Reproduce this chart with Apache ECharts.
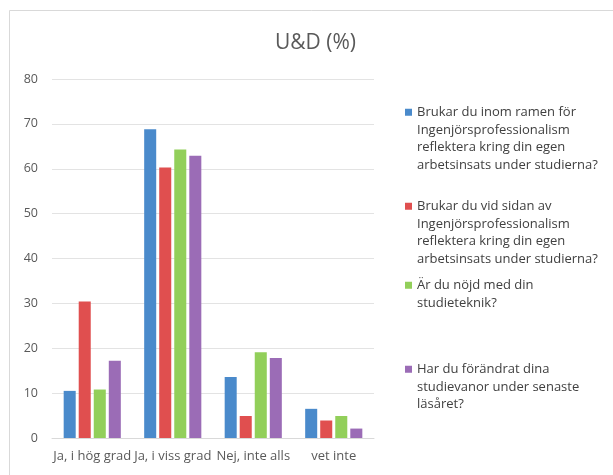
<!DOCTYPE html>
<html>
<head>
<meta charset="utf-8">
<script src="https://cdn.jsdelivr.net/npm/echarts@6/dist/echarts.min.js"></script>
<style>
html,body{margin:0;padding:0;background:#fff;}
#chart{width:613px;height:475px;}
</style>
</head>
<body>
<div id="chart"></div>
<script>
const categories = ['Ja, i hög grad', 'Ja, i viss grad', 'Nej, inte alls', 'vet inte'];
const seriesNames = [
  'Brukar du inom ramen för\nIngenjörsprofessionalism\nreflektera kring din egen\narbetsinsats under studierna?',
  'Brukar du vid sidan av\nIngenjörsprofessionalism\nreflektera kring din egen\narbetsinsats under studierna?',
  'Är du nöjd med din\nstudieteknik?',
  'Har du förändrat dina\nstudievanor under senaste\nläsåret?'
];
const values1 = [10.5, 68.8, 13.6, 6.5];
const values2 = [30.4, 60.3, 4.9, 3.9];
const values3 = [10.8, 64.3, 19.1, 4.9];
const values4 = [17.2, 62.9, 17.8, 2.1];
const yTicks = [0, 10, 20, 30, 40, 50, 60, 70, 80];
const titleText = 'U&D (%)';

const colors = ['#4a8acb', '#e04f4f', '#92cf5a', '#9b6cb6'];
const allValues = [values1, values2, values3, values4];
const FONT = 'Open Sans';
const LH = 17.5;
const legendTops = [104, 198, 277, 361];

function iconPath(n) {
  const h = n * LH;
  const y0 = LH / 2 - 4;
  return 'path://M0,0L0.01,0M0,' + y0 + 'h7v7h-7zM0,' + h + 'L0.01,' + h;
}

const chart = echarts.init(document.getElementById('chart'));
const legends = seriesNames.map((name, i) => {
  const n = name.split('\n').length;
  return {
    data: [name],
    orient: 'vertical',
    left: 405,
    top: legendTops[i],
    padding: 0,
    itemWidth: 7,
    itemHeight: n * LH,
    icon: iconPath(n),
    selectedMode: false,
    textStyle: { fontFamily: FONT, fontSize: 13, color: '#404040', lineHeight: LH, padding: 0 }
  };
});

chart.setOption({
  animation: false,
  backgroundColor: '#fff',
  color: colors,
  title: {
    text: titleText,
    left: 270,
    top: 28,
    textStyle: { fontFamily: FONT, fontSize: 21, fontWeight: 'normal', color: '#595959' }
  },
  graphic: [{
    type: 'rect',
    shape: { x: 9.5, y: 10.5, width: 800, height: 800 },
    style: { fill: 'none', stroke: '#d9d9d9', lineWidth: 1 },
    silent: true
  }],
  legend: legends,
  grid: { left: 52, right: 239, top: 79, bottom: 37 },
  xAxis: {
    type: 'category',
    data: categories,
    axisLine: { lineStyle: { color: '#d9d9d9' } },
    axisTick: { show: false },
    axisLabel: { interval: 0, margin: 12, fontFamily: FONT, fontSize: 13, color: '#595959' }
  },
  yAxis: {
    type: 'value',
    min: yTicks[0],
    max: yTicks[yTicks.length - 1],
    interval: yTicks[1] - yTicks[0],
    axisLine: { show: false },
    axisTick: { show: false },
    splitLine: { lineStyle: { color: '#e3e3e3' } },
    axisLabel: { margin: 14, fontFamily: FONT, fontSize: 12.5, color: '#595959' }
  },
  series: seriesNames.map((name, i) => ({
    name: name,
    type: 'bar',
    data: allValues[i],
    barGap: '25%',
    barCategoryGap: '29%',
    itemStyle: { color: colors[i] }
  }))
});
</script>
</body>
</html>
